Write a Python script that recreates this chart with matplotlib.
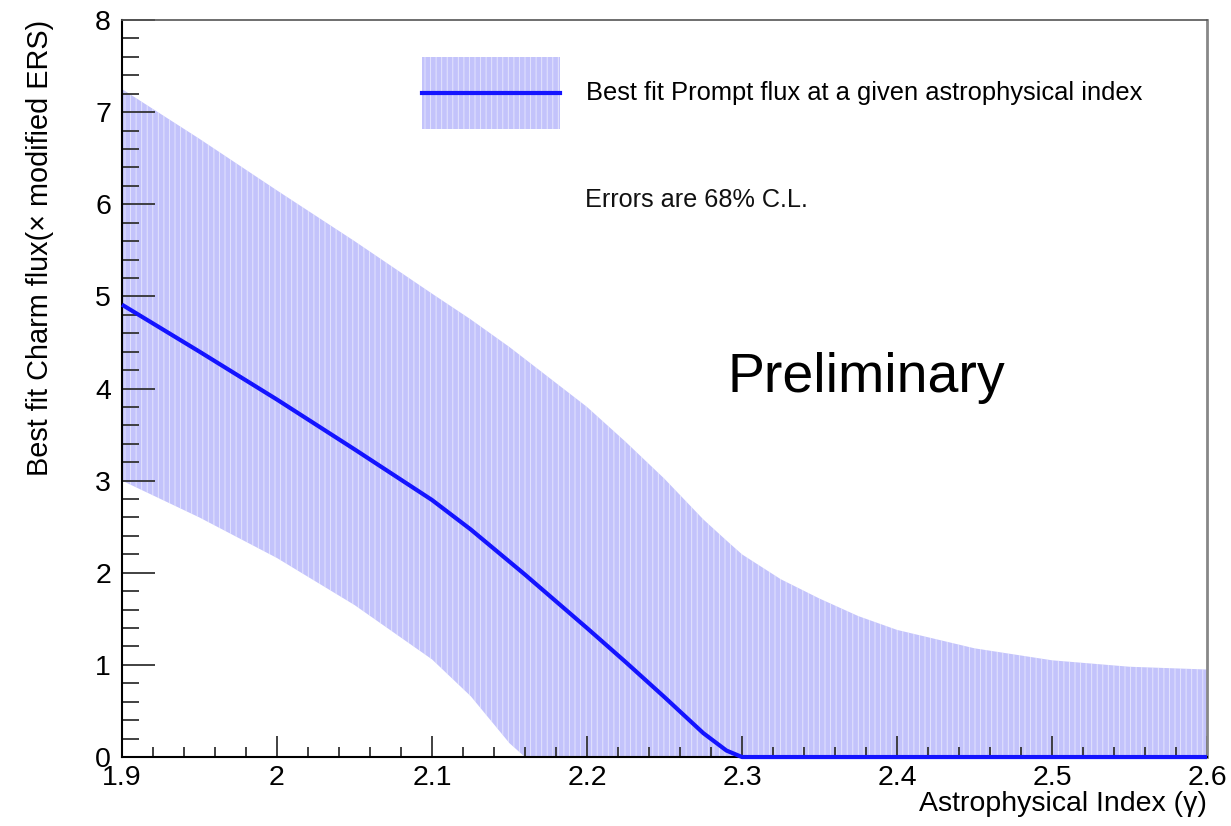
import matplotlib
matplotlib.use("Agg")
import matplotlib.pyplot as plt
from matplotlib.patches import Patch
from matplotlib.lines import Line2D
from matplotlib.legend_handler import HandlerLine2D
from matplotlib.ticker import MultipleLocator, FuncFormatter

# values
gamma = [1.9, 1.95, 2.0, 2.05, 2.1, 2.125, 2.15, 2.16, 2.2, 2.225, 2.25, 2.275,
         2.29, 2.3, 2.325, 2.35, 2.375, 2.4, 2.45, 2.5, 2.55, 2.6]
best = [4.91, 4.40, 3.88, 3.34, 2.79, 2.47, 2.12, 1.98, 1.40, 1.03, 0.65, 0.26,
        0.07, 0.0, 0.0, 0.0, 0.0, 0.0, 0.0, 0.0, 0.0, 0.0]
upper = [7.25, 6.71, 6.15, 5.60, 5.03, 4.75, 4.45, 4.32, 3.80, 3.42, 3.02, 2.58,
         2.35, 2.20, 1.93, 1.72, 1.53, 1.38, 1.18, 1.05, 0.98, 0.95]
lower = [3.00, 2.60, 2.16, 1.65, 1.06, 0.66, 0.15, 0.0, 0.0, 0.0, 0.0, 0.0,
         0.0, 0.0, 0.0, 0.0, 0.0, 0.0, 0.0, 0.0, 0.0, 0.0]

plt.rcParams['font.family'] = ['Liberation Sans', 'DejaVu Sans']
plt.rcParams['hatch.color'] = (1, 1, 1, 0.55)
plt.rcParams['hatch.linewidth'] = 0.7

band_col = '#c3c3fb'
line_col = '#1414ff'


class CenteredLine(HandlerLine2D):
    # put the legend line in the middle of the tall handle box
    def create_artists(self, legend, orig_handle, xdescent, ydescent,
                       width, height, fontsize, trans):
        return super().create_artists(legend, orig_handle, xdescent, 2 * ydescent,
                                      width, height, fontsize, trans)


fig = plt.figure(figsize=(12.31, 8.26), dpi=100)
ax = fig.add_axes([0.0991, 0.0835, 0.8814, 0.8923])

ax.fill_between(gamma, lower, upper, facecolor=band_col, hatch='|||', linewidth=0)
ax.plot(gamma, best, color=line_col, lw=3, zorder=5, clip_on=False,
        solid_capstyle='butt')

ax.set_xlim(1.9, 2.6)
ax.set_ylim(0, 8)
ax.xaxis.set_major_locator(MultipleLocator(0.1))
ax.xaxis.set_minor_locator(MultipleLocator(0.02))
ax.yaxis.set_major_locator(MultipleLocator(1))
ax.yaxis.set_minor_locator(MultipleLocator(0.2))
ax.xaxis.set_major_formatter(FuncFormatter(lambda v, p: '%g' % round(v, 2)))

ax.tick_params(which='both', direction='in', top=False, right=False,
               labelsize=20.5, color='#333333', width=1.3)
ax.tick_params(axis='y', which='major', length=24, pad=8)
ax.tick_params(axis='y', which='minor', length=12)
ax.tick_params(axis='x', which='major', length=15, pad=6)
ax.tick_params(axis='x', which='minor', length=7.5)

ax.spines['left'].set_linewidth(1.5)
ax.spines['bottom'].set_linewidth(1.5)
ax.spines['top'].set_color('#555555')
ax.spines['top'].set_linewidth(1.2)
ax.spines['right'].set_color('#888888')
ax.spines['right'].set_linewidth(2)

ax.set_xlabel('Astrophysical Index (γ)', fontsize=20.5, loc='right')
ax.xaxis.set_label_coords(1.0, -0.046)
ax.set_ylabel('Best fit Charm flux(× modified ERS)', fontsize=20.8, loc='top')
ax.yaxis.set_label_coords(-0.0627, 1.0)

band_h = Patch(facecolor=band_col, hatch='|||', linewidth=0)
line_h = Line2D([], [], color=line_col, lw=3)
ax.legend([(band_h, line_h)], ['Best fit Prompt flux at a given astrophysical index'],
          loc='upper left', bbox_to_anchor=(0.2765, 0.9497), frameon=False,
          fontsize=18.4, borderpad=0, borderaxespad=0, handlelength=5.4,
          handleheight=3.95, handletextpad=1.0,
          handler_map={Line2D: CenteredLine()})

ax.text(0.4267, 0.7558, 'Errors are 68% C.L.', transform=ax.transAxes,
        fontsize=18.2, va='center', ha='left', color='#111111')
ax.text(0.5585, 0.4953, 'Preliminary', transform=ax.transAxes,
        fontsize=40, va='baseline', ha='left', color='black')

fig.savefig('out.png', dpi=100)
